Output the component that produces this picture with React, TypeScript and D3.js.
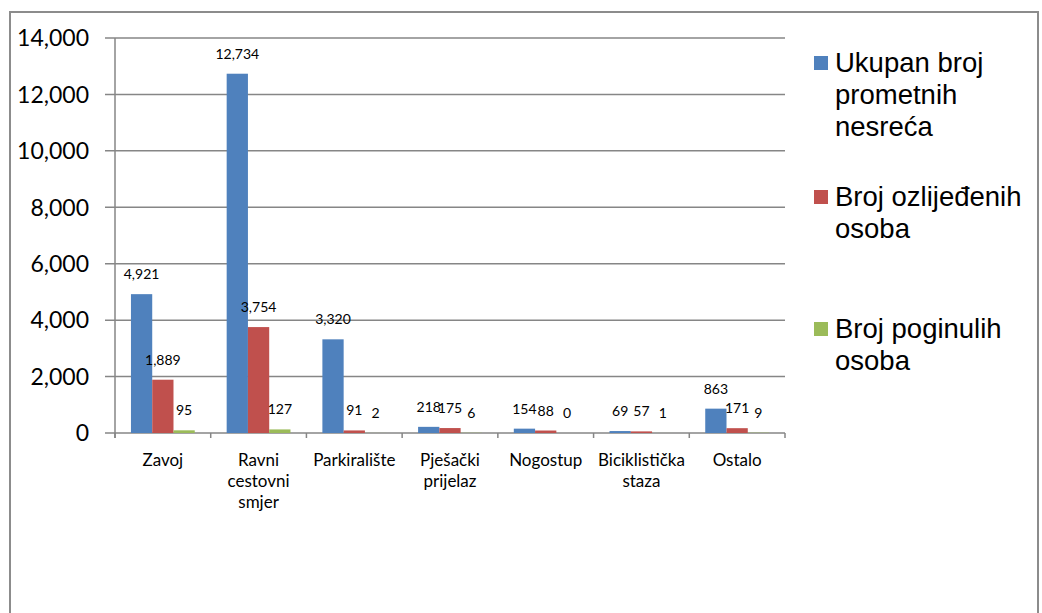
import { useEffect, useRef } from 'react';
import * as d3 from 'd3';

const categories = [
    ['Zavoj'],
    ['Ravni', 'cestovni', 'smjer'],
    ['Parkiralište'],
    ['Pješački', 'prijelaz'],
    ['Nogostup'],
    ['Biciklistička', 'staza'],
    ['Ostalo'],
];
const ukupno = [4921, 12734, 3320, 218, 154, 69, 863];
const ozlijedeni = [1889, 3754, 91, 175, 88, 57, 171];
const poginuli = [95, 127, 2, 6, 0, 1, 9];

const seriesNames = [
    ['Ukupan broj', 'prometnih', 'nesreća'],
    ['Broj ozlijeđenih', 'osoba'],
    ['Broj poginulih', 'osoba'],
];
const colors = ['#4F81BD', '#C0504D', '#9BBB59'];
const yTicks = [0, 2000, 4000, 6000, 8000, 10000, 12000, 14000];

export default function App() {
    const svgRef = useRef<SVGSVGElement>(null);

    useEffect(() => {
        if (!svgRef.current) return;
        const svg = d3.select(svgRef.current);
        svg.selectAll('*').remove();

        const H = 613;
        const left = 115, right = 785, top = 38, bottom = 433;
        const grid = '#868686';

        // Outer frame (bottom edge falls outside the picture)
        svg.append('rect')
            .attr('x', 10).attr('y', 12)
            .attr('width', 1028).attr('height', H + 20)
            .attr('fill', 'white')
            .attr('stroke', '#8c8c8c')
            .attr('stroke-width', 2);

        const x = d3.scaleBand<number>()
            .domain(d3.range(categories.length))
            .range([left, right])
            .paddingInner(0).paddingOuter(0);

        const inner = d3.scaleBand<number>()
            .domain([0, 1, 2])
            .range([0, x.bandwidth()])
            .paddingInner(0).paddingOuter(0.75);

        const y = d3.scaleLinear().domain([0, 14000]).range([bottom, top]);

        // Gridlines + y ticks
        const fmt = d3.format(',');
        yTicks.forEach(t => {
            svg.append('line')
                .attr('x1', left - 10).attr('x2', right)
                .attr('y1', y(t)).attr('y2', y(t))
                .attr('stroke', grid).attr('stroke-width', 1.5);
            svg.append('text')
                .attr('x', 89).attr('y', y(t))
                .attr('dy', '0.36em')
                .attr('text-anchor', 'end')
                .attr('font-family', 'Lato, sans-serif')
                .attr('font-size', 23)
                .attr('fill', '#000')
                .text(fmt(t));
        });

        // Y axis line
        svg.append('line')
            .attr('x1', left).attr('x2', left)
            .attr('y1', top).attr('y2', bottom + 5)
            .attr('stroke', grid).attr('stroke-width', 1.5);

        // Category tick marks
        d3.range(categories.length + 1).forEach(i => {
            const xp = i < categories.length ? (x(i) as number) : right;
            svg.append('line')
                .attr('x1', xp).attr('x2', xp)
                .attr('y1', bottom).attr('y2', bottom + 5)
                .attr('stroke', grid).attr('stroke-width', 1.5);
        });

        const series = [ukupno, ozlijedeni, poginuli];

        series.forEach((vals, s) => {
            const g = svg.append('g');
            g.selectAll('rect')
                .data(vals)
                .enter()
                .append('rect')
                .attr('x', (_, i) => (x(i) as number) + (inner(s) as number))
                .attr('y', d => y(d))
                .attr('width', inner.bandwidth())
                .attr('height', d => bottom - y(d))
                .attr('fill', colors[s]);

            g.selectAll('text')
                .data(vals)
                .enter()
                .append('text')
                .attr('x', (_, i) => (x(i) as number) + (inner(s) as number) + inner.bandwidth() / 2)
                .attr('y', d => y(d) - 15)
                .attr('text-anchor', 'middle')
                .attr('font-family', 'Lato, sans-serif')
                .attr('font-size', 14)
                .attr('fill', '#000')
                .text(d => fmt(d));
        });

        // Category labels
        categories.forEach((lines, i) => {
            const t = svg.append('text')
                .attr('text-anchor', 'middle')
                .attr('font-family', 'Lato, sans-serif')
                .attr('font-size', 17)
                .attr('fill', '#000');
            lines.forEach((ln, k) => {
                t.append('tspan')
                    .attr('x', (x(i) as number) + x.bandwidth() / 2)
                    .attr('y', 466 + k * 21)
                    .text(ln);
            });
        });

        // Legend
        const legendY = [56, 190, 322];
        seriesNames.forEach((lines, s) => {
            svg.append('rect')
                .attr('x', 814).attr('y', legendY[s])
                .attr('width', 14).attr('height', 14)
                .attr('fill', colors[s]);
            const t = svg.append('text')
                .attr('font-family', '"Liberation Sans", Arial, sans-serif')
                .attr('font-size', 27.5)
                .attr('fill', '#000');
            lines.forEach((ln, k) => {
                t.append('tspan')
                    .attr('x', 835)
                    .attr('y', legendY[s] + 16 + k * 32)
                    .text(ln);
            });
        });
    }, []);

    return (
        <svg
            ref={svgRef}
            width={1042}
            height={613}
            style={{ position: 'absolute', left: 0, top: 0, background: 'white' }}
        />
    );
}
